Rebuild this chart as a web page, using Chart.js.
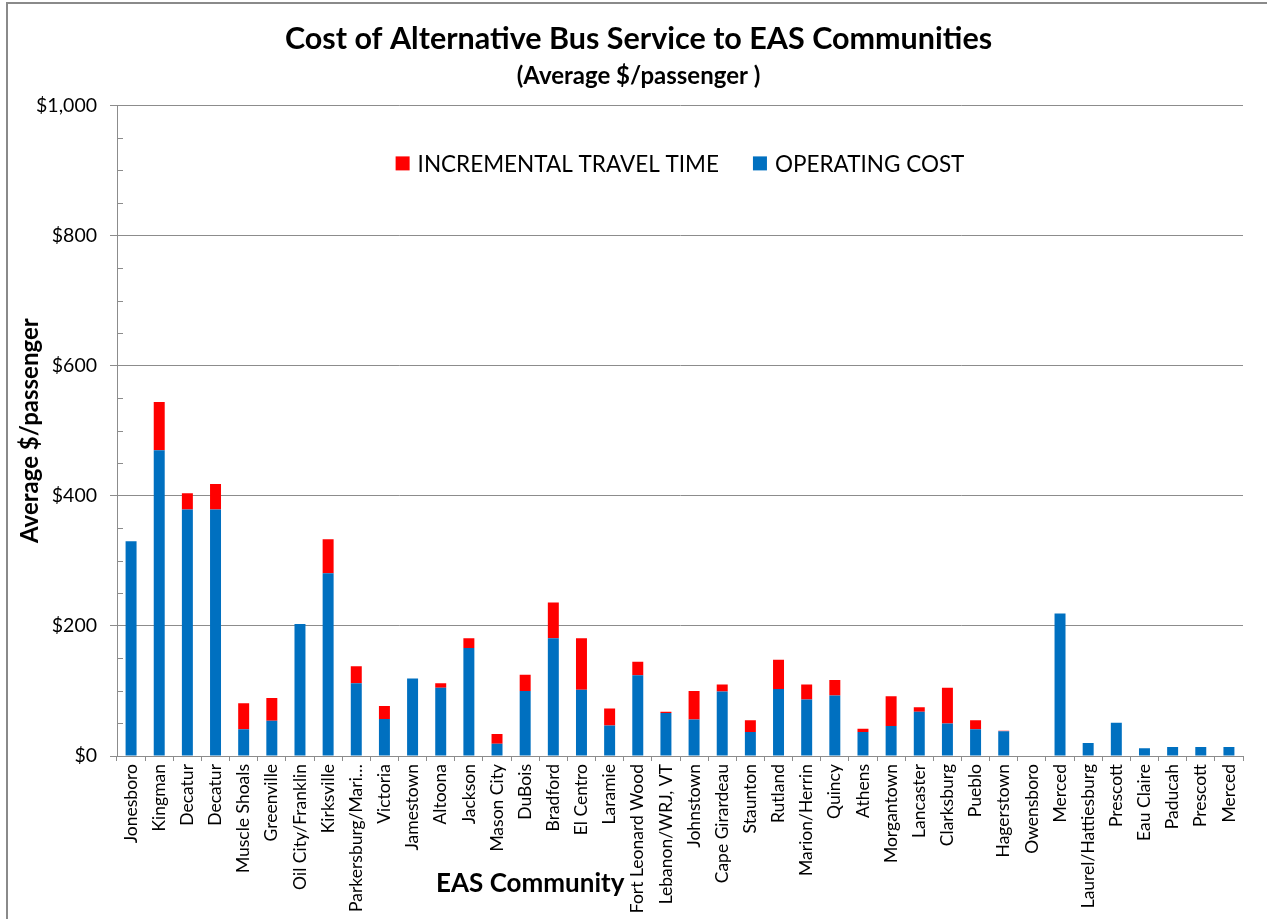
<!DOCTYPE html>
<html>
<head>
<meta charset="utf-8">
<script src="https://cdn.jsdelivr.net/npm/chart.js@4.4.1/dist/chart.umd.min.js"></script>
<style>
  html, body { margin: 0; padding: 0; background: #ffffff; }
  #wrap { position: relative; width: 1267px; height: 919px; }
</style>
</head>
<body>
<div id="wrap"><canvas id="c" width="1267" height="919"></canvas></div>
<script>
const categories = ["Jonesboro","Kingman","Decatur","Decatur","Muscle Shoals","Greenville","Oil City/Franklin","Kirksville","Parkersburg/Mari\u2026","Victoria","Jamestown","Altoona","Jackson","Mason City","DuBois","Bradford","El Centro","Laramie","Fort Leonard Wood","Lebanon/WRJ, VT","Johnstown","Cape Girardeau","Staunton","Rutland","Marion/Herrin","Quincy","Athens","Morgantown","Lancaster","Clarksburg","Pueblo","Hagerstown","Owensboro","Merced","Laurel/Hattiesburg","Prescott","Eau Claire","Paducah","Prescott","Merced"];
const operatingCost = [330,470,379,379,41,54,203,281,112,57,119,105,166,19,100,181,102,47,124,66,56,99,37,103,87,93,37,46,68,50,41,38,0,219,20,51,12,14,14,14];
const incrementalTravelTime = [0,74,25,39,40,35,0,52,26,20,0,7,15,15,25,55,79,26,21,2,44,11,18,45,23,24,5,46,7,55,14,1,0,0,0,0,0,0,0,0];
const yTicks = [0,200,400,600,800,1000];
const titleText = "Cost of Alternative Bus Service to EAS Communities";
const subtitleText = "(Average $/passenger )";
const yTitle = "Average $/passenger";
const xTitle = "EAS Community";
const seriesNames = ["OPERATING COST","INCREMENTAL TRAVEL TIME"];
const seriesColors = ["#0070C0","#FF0000"];

const FONT = "Lato, 'Liberation Sans', sans-serif";
const GRID = "#8c8c8c";

const overlay = {
  id: 'overlay',
  beforeDraw(chart) {
    const ctx = chart.ctx;
    ctx.save();
    ctx.fillStyle = '#ffffff';
    ctx.fillRect(0, 0, chart.width, chart.height);
    ctx.strokeStyle = '#8a8a8a';
    ctx.lineWidth = 2;
    ctx.strokeRect(7, 3, chart.width + 20, chart.height + 20);
    ctx.restore();
  },
  afterDraw(chart) {
    const ctx = chart.ctx;
    const ca = chart.chartArea;
    const y = chart.scales.y;
    ctx.save();
    ctx.strokeStyle = GRID;
    ctx.lineWidth = 1;
    for (let v = 50; v < 1000; v += 50) {
      if (v % 200 === 0) continue;
      const py = Math.round(y.getPixelForValue(v)) + 0.5;
      ctx.beginPath();
      ctx.moveTo(ca.left, py);
      ctx.lineTo(ca.left + 6, py);
      ctx.stroke();
    }
    ctx.font = "22.5px " + FONT;
    ctx.textBaseline = 'middle';
    const box = 14, gap = 8, itemGap = 34;
    const order = [1, 0];
    const widths = order.map(i => ctx.measureText(seriesNames[i]).width);
    const total = widths.reduce((a, b) => a + b, 0) + order.length * (box + gap) + itemGap * (order.length - 1);
    let lx = (ca.left + ca.right) / 2 - total / 2;
    const ly = ca.top + 58;
    order.forEach((i, k) => {
      ctx.fillStyle = seriesColors[i];
      ctx.fillRect(lx, ly - box / 2, box, box);
      ctx.fillStyle = '#000000';
      ctx.textAlign = 'left';
      ctx.fillText(seriesNames[i], lx + box + gap, ly + 1);
      lx += box + gap + widths[k] + itemGap;
    });
    ctx.font = "bold 26px " + FONT;
    ctx.textAlign = 'center';
    ctx.fillStyle = '#000000';
    ctx.fillText(xTitle, ca.left + (ca.right - ca.left) * 0.367, ca.bottom + 128);
    ctx.restore();
  }
};

new Chart(document.getElementById('c'), {
  type: 'bar',
  data: {
    labels: categories,
    datasets: [
      { label: seriesNames[0], data: operatingCost, backgroundColor: seriesColors[0], borderWidth: 0, barPercentage: 0.39, categoryPercentage: 1.0 },
      { label: seriesNames[1], data: incrementalTravelTime, backgroundColor: seriesColors[1], borderWidth: 0, barPercentage: 0.39, categoryPercentage: 1.0 }
    ]
  },
  options: {
    responsive: false,
    animation: false,
    devicePixelRatio: 1,
    layout: { padding: { left: 10, right: 0, top: 0, bottom: 0 } },
    plugins: {
      legend: { display: false },
      tooltip: { enabled: false },
      title: {
        display: true,
        text: titleText,
        color: '#000000',
        font: { family: FONT, size: 30.5, weight: 'bold', lineHeight: 1.2 },
        padding: { top: 21, bottom: 0 }
      },
      subtitle: {
        display: true,
        text: subtitleText,
        color: '#000000',
        font: { family: FONT, size: 24, weight: 'bold', lineHeight: 1.2 },
        padding: { top: 4, bottom: 15 }
      }
    },
    scales: {
      x: {
        stacked: true,
        grid: { offset: true, drawOnChartArea: false, drawTicks: true, tickLength: 5, color: GRID },
        border: { color: GRID, width: 1 },
        ticks: {
          autoSkip: false, maxRotation: 90, minRotation: 90, padding: 3,
          color: '#000000', font: { family: FONT, size: 17.5 }
        },
        afterFit(scale) { scale.height = 163; }
      },
      y: {
        stacked: true,
        min: 0, max: 1000,
        afterBuildTicks(scale) { scale.ticks = yTicks.map(v => ({ value: v })); },
        grid: { color: GRID, tickLength: 7, drawTicks: true },
        border: { color: GRID, width: 1 },
        ticks: {
          padding: 13, color: '#000000', font: { family: FONT, size: 19.5 },
          callback: v => '$' + Number(v).toLocaleString('en-US')
        },
        title: {
          display: true, text: yTitle, color: '#000000',
          font: { family: FONT, size: 24, weight: 'bold' },
          padding: { top: 6, bottom: 0 }
        },
        afterFit(scale) { scale.width = 107; }
      },
      yRight: {
        position: 'right',
        display: true,
        grid: { display: false, drawTicks: false },
        border: { display: false },
        ticks: { display: false },
        afterFit(scale) { scale.width = 24; }
      }
    }
  },
  plugins: [overlay]
});
</script>
</body>
</html>
